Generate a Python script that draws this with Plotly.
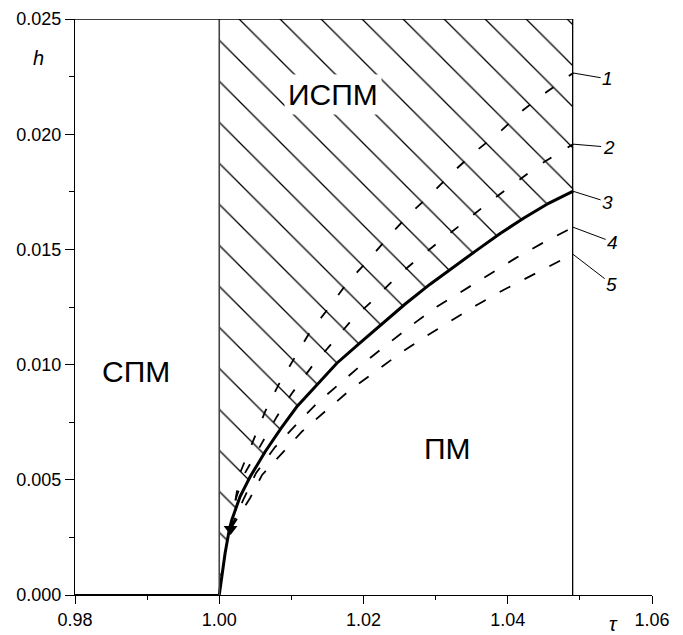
import plotly.graph_objects as go

# ---------------- data ----------------
# critical / tricritical point marker
tcp_tau = [1.00157]
tcp_h = [0.00287]

# h = 0 boundary for tau < 1
tau0 = [0.98, 1.0]
h0 = [0.0, 0.0]

# curve 3 (solid phase boundary)
tau3 = [1.0000, 1.00081, 1.00140, 1.00174, 1.00289, 1.00428, 1.00636, 1.00858,
        1.01075, 1.01353, 1.01630, 1.01944, 1.02254, 1.02578, 1.02924, 1.03248,
        1.03572, 1.03895, 1.04219, 1.04566, 1.04908]
h3 = [0.0, 0.00181, 0.00285, 0.00326, 0.00427, 0.00513, 0.00622, 0.00724,
      0.00817, 0.00911, 0.01006, 0.01092, 0.01176, 0.01263, 0.01349, 0.01425,
      0.01497, 0.01569, 0.01635, 0.01700, 0.01753]

# curve 1 (dashed, inside hatched region)
tau1 = [1.00157, 1.00289, 1.00636, 1.00820, 1.01260, 1.01514, 1.01769, 1.02069,
        1.02346, 1.02623, 1.02948, 1.03243, 1.03549, 1.03895, 1.04214, 1.04543, 1.04908]
h1 = [0.00287, 0.00530, 0.00796, 0.00911, 0.01143, 0.01244, 0.01353, 0.01454,
      0.01555, 0.01649, 0.01743, 0.01837, 0.01924, 0.02011, 0.02105, 0.02184, 0.02266]

# curve 2 (dashed, inside hatched region)
tau2 = [1.00157, 1.00233, 1.00358, 1.00590, 1.00798, 1.01006, 1.01283, 1.01561,
        1.01838, 1.02161, 1.02462, 1.02786, 1.03109, 1.03456, 1.03780, 1.04127,
        1.04474, 1.04908]
h2 = [0.00287, 0.00421, 0.00530, 0.00658, 0.00774, 0.00875, 0.00991, 0.01092,
      0.01194, 0.01288, 0.01382, 0.01468, 0.01548, 0.01635, 0.01714, 0.01794,
      0.01874, 0.01957]

# curve 4 (dashed, below curve 3)
tau4 = [1.00157, 1.00344, 1.00511, 1.00774, 1.01075, 1.01353, 1.01676, 1.01999,
        1.02346, 1.02671, 1.03017, 1.03386, 1.03733, 1.04104, 1.04474, 1.04908]
h4 = [0.00287, 0.00421, 0.00530, 0.00642, 0.00742, 0.00832, 0.00919, 0.01006,
      0.01092, 0.01172, 0.01251, 0.01324, 0.01389, 0.01461, 0.01526, 0.01597]

# curve 5 (dashed, below curve 4)
tau5 = [1.00157, 1.00428, 1.00594, 1.00885, 1.01145, 1.01491, 1.01815, 1.02161,
        1.02508, 1.02855, 1.03225, 1.03572, 1.03941, 1.04335, 1.04704, 1.04908]
h5 = [0.00287, 0.00421, 0.00521, 0.00621, 0.00709, 0.00803, 0.00890, 0.00969,
      0.01049, 0.01121, 0.01194, 0.01259, 0.01324, 0.01389, 0.01447, 0.01480]

curve_labels = ["1", "2", "3", "4", "5"]

x_tickvals = [0.98, 1.00, 1.02, 1.04, 1.06]
x_ticktext = ["0.98", "1.00", "1.02", "1.04", "1.06"]
y_tickvals = [0.000, 0.005, 0.010, 0.015, 0.020, 0.025]
y_ticktext = ["0.000", "0.005", "0.010", "0.015", "0.020", "0.025"]

TAU_C = 1.0      # boundary СПМ / ИСПМ
TAU_MAX = 1.049  # right edge of the diagram
H_MAX = 0.025

region_labels = ["СПМ", "ИСПМ", "ПМ"]
region_tau = [0.98839, 1.01572, 1.0316]
region_h = [0.00968, 0.02172, 0.00634]

# ---------------- figure ----------------
FONT = "Liberation Sans, Arimo, Arial, sans-serif"
fig = go.Figure()

# hatched region (ИСПМ): above curve 3, between tau=1 and TAU_MAX
hatch_x = tau3 + [TAU_MAX, TAU_C]
hatch_y = h3 + [H_MAX, H_MAX]
fig.add_trace(go.Scatter(
    x=hatch_x, y=hatch_y, mode="lines", fill="toself",
    line=dict(width=0, color="white"),
    fillcolor="white",
    fillpattern=dict(shape="\\", size=29, solidity=0.045, fgcolor="black",
                     fgopacity=1),
    hoverinfo="skip", showlegend=False))

# dashed curves
dash_in = "10px,19px"
dash_out = "12px,16px"
for tx, hy, dsh in [(tau1, h1, dash_in), (tau2, h2, dash_in),
                    (tau4, h4, dash_out), (tau5, h5, dash_out)]:
    fig.add_trace(go.Scatter(x=tx, y=hy, mode="lines",
                             line=dict(color="black", width=1.8, dash=dsh),
                             showlegend=False))
# solid curve 3 and h=0 boundary
fig.add_trace(go.Scatter(x=tau3, y=h3, mode="lines",
                         line=dict(color="black", width=3), showlegend=False))
fig.add_trace(go.Scatter(x=tau0, y=h0, mode="lines",
                         line=dict(color="black", width=2.2), showlegend=False))
# marker
fig.add_trace(go.Scatter(x=tcp_tau, y=tcp_h, mode="markers",
                         marker=dict(symbol="triangle-down", size=12, color="black"),
                         showlegend=False))

# frame lines
fig.add_shape(type="line", x0=TAU_C, x1=TAU_C, y0=0, y1=H_MAX, xref="x", yref="y",
              line=dict(color="#444444", width=1.6))
fig.add_shape(type="line", x0=TAU_MAX, x1=TAU_MAX, y0=0, y1=H_MAX, xref="x", yref="y",
              line=dict(color="black", width=1.3))
fig.add_shape(type="line", x0=0.98, x1=TAU_MAX, y0=H_MAX, y1=H_MAX, xref="x", yref="y",
              line=dict(color="black", width=1.3))

# region labels
for txt, tx, ty in zip(region_labels, region_tau, region_h):
    fig.add_annotation(x=tx, y=ty, xref="x", yref="y", text=txt, showarrow=False,
                       xanchor="center", yanchor="middle",
                       font=dict(family=FONT, size=30, color="black"),
                       bgcolor="white" if txt == "ИСПМ" else None, borderpad=3)

# curve number labels with leader lines
ends_h = [h1[-1], h2[-1], h3[-1], h4[-1], h5[-1]]
offsets = [(35, 6), (36, 3), (35, 11), (40, 15), (39, 30)]
for lab, hy, (ax, ay) in zip(curve_labels, ends_h, offsets):
    fig.add_annotation(x=TAU_MAX, y=hy, xref="x", yref="y", text="<i>" + lab + "</i>",
                       showarrow=True, arrowhead=0, arrowwidth=1, arrowcolor="black",
                       ax=ax, ay=ay, standoff=0,
                       font=dict(family=FONT, size=19, color="black"))

# axis titles
fig.add_annotation(x=-0.064, y=0.932, xref="paper", yref="paper", text="<i>h</i>",
                   xanchor="center", yanchor="middle",
                   showarrow=False, font=dict(family=FONT, size=20, color="black"))
fig.add_annotation(x=0.933, y=-0.050, xref="paper", yref="paper", text="<i>τ</i>",
                   xanchor="center", yanchor="middle",
                   showarrow=False, font=dict(family=FONT, size=20, color="black"))

fig.update_xaxes(range=[0.98, 1.06], tickvals=x_tickvals, ticktext=x_ticktext,
                 automargin=False,
                 ticks="outside", ticklen=8, tickwidth=1.2, tickcolor="black",
                 showline=True, linecolor="black", linewidth=1.3,
                 showgrid=False, zeroline=False,
                 minor=dict(tickvals=[0.99, 1.01, 1.03, 1.05], ticks="outside",
                            ticklen=4, tickwidth=1.2, tickcolor="black"),
                 tickfont=dict(family=FONT, size=18, color="black"))
fig.update_yaxes(range=[0, H_MAX], tickvals=y_tickvals, ticktext=y_ticktext,
                 automargin=False,
                 ticks="outside", ticklen=9, tickwidth=1.2, tickcolor="black",
                 showline=True, linecolor="black", linewidth=1.3,
                 showgrid=False, zeroline=False,
                 minor=dict(tickvals=[0.0025, 0.0075, 0.0125, 0.0175, 0.0225],
                            ticks="outside", ticklen=5, tickwidth=1.2, tickcolor="black"),
                 tickfont=dict(family=FONT, size=18, color="black"))

fig.update_layout(width=683, height=635, autosize=False,
                  margin=dict(l=75, r=31, t=19, b=40),
                  plot_bgcolor="white", paper_bgcolor="white",
                  font=dict(family=FONT, color="black"),
                  showlegend=False)

# remove the browser's default 8 px body margin so the figure fills the window
fig.write_html("out.html", config={"displayModeBar": False},
               post_script="document.body.style.margin='0px';document.body.style.overflow='hidden';")
